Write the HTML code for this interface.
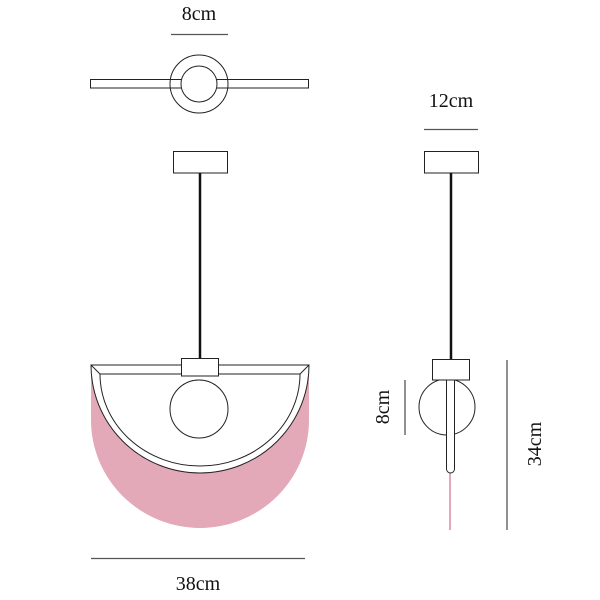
<!DOCTYPE html>
<html><head><meta charset="utf-8"><style>
html,body{margin:0;padding:0;background:#fff;}
svg{display:block;}
text{font-family:"Liberation Serif",serif;fill:#111;}
</style></head><body>
<svg width="600" height="600" viewBox="0 0 600 600" xmlns="http://www.w3.org/2000/svg">
<!-- top view -->
<text x="199" y="20" font-size="20" text-anchor="middle">8cm</text>
<line x1="171" y1="34.5" x2="228" y2="34.5" stroke="#555" stroke-width="1.3"/>
<circle cx="199" cy="84" r="29" fill="#fff" stroke="#222" stroke-width="1"/>
<rect x="90.5" y="79.5" width="218" height="8.5" fill="none" stroke="#222" stroke-width="1"/>
<circle cx="199" cy="84" r="18" fill="#fff" stroke="#222" stroke-width="1"/>

<!-- front view -->
<rect x="173.5" y="151.5" width="54" height="21.5" fill="#fff" stroke="#222" stroke-width="1"/>
<line x1="200" y1="173" x2="200" y2="359" stroke="#111" stroke-width="2.5"/>
<path d="M91,368 L91,420 A109,108 0 0 0 309,420 L309,368 Z" fill="#e3a9b8"/>
<path d="M91,365 A109,108 0 0 0 309,365 Z" fill="#fff" stroke="#222" stroke-width="1"/>
<path d="M100,374 L300,374 A100,92 0 0 1 100,374" fill="none" stroke="#222" stroke-width="1"/>
<line x1="91" y1="365" x2="100" y2="374" stroke="#222" stroke-width="1"/>
<line x1="309" y1="365" x2="300" y2="374" stroke="#222" stroke-width="1"/>
<circle cx="199" cy="409" r="29" fill="#fff" stroke="#222" stroke-width="1"/>
<rect x="181.5" y="358.5" width="37" height="17.5" fill="#fff" stroke="#222" stroke-width="1"/>
<line x1="91" y1="558.5" x2="305" y2="558.5" stroke="#555" stroke-width="1.3"/>
<text x="198" y="590" font-size="20" text-anchor="middle">38cm</text>

<!-- side view -->
<text x="451" y="107" font-size="20" text-anchor="middle">12cm</text>
<line x1="424" y1="129.5" x2="478" y2="129.5" stroke="#555" stroke-width="1.3"/>
<rect x="424.5" y="151.5" width="54" height="21.5" fill="#fff" stroke="#222" stroke-width="1"/>
<line x1="451" y1="173" x2="451" y2="360" stroke="#111" stroke-width="2.5"/>
<line x1="450" y1="473" x2="450" y2="530" stroke="#e3a9b8" stroke-width="2"/>
<circle cx="447" cy="407" r="28" fill="#fff" stroke="#222" stroke-width="1"/>
<path d="M446.5,380 L446.5,469 A4,4 0 0 0 454.5,469 L454.5,380" fill="#fff" stroke="#222" stroke-width="1"/>
<rect x="432.5" y="359.5" width="37" height="20.5" fill="#fff" stroke="#222" stroke-width="1"/>
<line x1="405" y1="380" x2="405" y2="435" stroke="#555" stroke-width="1.3"/>
<text transform="translate(389,407) rotate(-90)" font-size="20" text-anchor="middle">8cm</text>
<line x1="507" y1="360" x2="507" y2="530" stroke="#555" stroke-width="1.3"/>
<text transform="translate(541,444) rotate(-90)" font-size="20" text-anchor="middle">34cm</text>
</svg>
</body></html>
